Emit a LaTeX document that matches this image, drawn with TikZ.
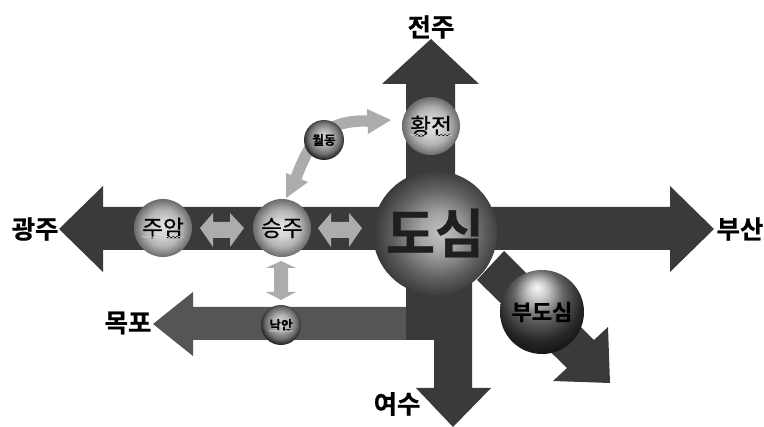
\documentclass[tikz,border=0pt]{standalone}
\usepackage{fontspec}
\newfontfamily\cjk{Noto Sans CJK KR}[BoldFont={Noto Sans CJK KR Bold},BoldFeatures={FakeBold=0.6}]
\newfontfamily\cjkmid{Noto Sans CJK KR}[FakeBold=0.5]
\usetikzlibrary{decorations.pathmorphing,calc}
\definecolor{darkarrow}{HTML}{3A3A3A}
\definecolor{midarrow}{HTML}{555555}
\definecolor{lightarrow}{HTML}{ACACAC}
\pgfdeclareradialshading{ballmid}{\pgfpoint{0bp}{0bp}}{color(0bp)=(black!13);color(7bp)=(black!16);color(16bp)=(black!30);color(25bp)=(black!58);color(50bp)=(black!58)}
\pgfdeclareradialshading{ballbig}{\pgfpoint{2bp}{0bp}}{color(0bp)=(black!24);color(8bp)=(black!36);color(18bp)=(black!62);color(26bp)=(black!78);color(50bp)=(black!78)}
\pgfdeclareradialshading{ballbud}{\pgfpoint{-3bp}{15bp}}{color(0bp)=(black!3);color(6bp)=(black!22);color(15bp)=(black!62);color(25bp)=(black!85);color(38bp)=(black);color(50bp)=(black)}
\pgfdeclareradialshading{ballsmall}{\pgfpoint{0bp}{4bp}}{color(0bp)=(black!15);color(10bp)=(black!30);color(20bp)=(black!58);color(29bp)=(black);color(50bp)=(black)}
\tikzset{
 x=0.75pt,y=-0.75pt,
 ball/.style={circle,inner sep=0pt,minimum size=#1*0.75pt},
 midball/.style={ball=58,shading=ballmid,font=\cjkmid\fontsize{17}{18}\selectfont,text=black},
 smallball/.style={ball=40,shading=ballsmall,font=\cjk\bfseries\fontsize{9.5}{10}\selectfont,text=black},
 place/.style={font=\cjk\bfseries\fontsize{19}{20}\selectfont,text=black,inner sep=0pt},
 bigarrow/.style={fill=darkarrow,draw=none},
 grayarrow/.style={fill=lightarrow,draw=none},
 squig/.style={draw=black!20,line width=0.5pt,decorate,decoration={snake,amplitude=0.6pt,segment length=3pt}},
}
\begin{document}
\begin{tikzpicture}
\useasboundingbox[fill=white] (0,0) rectangle (764,427);
% lower-left road
\fill[fill=midarrow] (153,324) -- (193,292) -- (193,307) -- (410,307) -- (410,340) -- (193,340) -- (193,356) -- cycle;
% main roads
\fill[bigarrow] (431,39) -- (479,84) -- (455,84) -- (455,250) -- (406,250) -- (406,84) -- (382,84) -- cycle;
\fill[bigarrow] (59,229) -- (103,186) -- (103,207) -- (670,207) -- (670,186) -- (714,229) -- (670,272) -- (670,250) -- (103,250) -- (103,272) -- cycle;
\fill[bigarrow] (406,240) -- (472,240) -- (472,388) -- (491,388) -- (453,427) -- (416,388) -- (434,388) -- (434,340) -- (406,340) -- cycle;
\fill[bigarrow] (504,251) -- (594,340) -- (608,327) -- (610,383) -- (553,381) -- (567,368) -- (477,280) -- cycle;
% light arrows
\fill[grayarrow] (200,228) -- (213,213) -- (213,222) -- (230,222) -- (230,213) -- (244,228) -- (230,247) -- (230,238) -- (213,238) -- (213,247) -- cycle;
\fill[grayarrow] (318,228) -- (331,213) -- (331,222) -- (349,222) -- (349,213) -- (362,228) -- (349,247) -- (349,238) -- (331,238) -- (331,247) -- cycle;
\fill[grayarrow] (281,261) -- (296,268) -- (288,268) -- (288,292) -- (296,292) -- (281,300) -- (266,292) -- (274,292) -- (274,268) -- (266,268) -- cycle;
\draw[lightarrow,line width=8.5pt] (368,121) .. controls (325,120) and (310,140) .. (296,178);
\fill[grayarrow] (391,120) -- (367,109) -- (368,134) -- cycle;
\fill[grayarrow] (286,198) -- (286,173) -- (308,182) -- cycle;
% stations
\node[smallball] (wd) at (324,140) {월동};
\node[midball] (hj) at (431,126) {황전};
\node[midball] (ja) at (163,228) {주암};
\node[midball] (sj) at (282,228) {승주};
\node[smallball] (na) at (281,325) {낙안};
\node[ball=124,shading=ballbig,font=\cjk\bfseries\fontsize{40}{41}\selectfont,text=black!88] (ds) at (435,233) {도심};
\node[ball=84,shading=ballbud,font=\cjk\bfseries\fontsize{16.5}{17}\selectfont,text=black] (bd) at (542,312) {부도심};
\draw[squig] ($(hj)+(-21,9)$) -- ($(hj)+(21,9)$);
\draw[squig] ($(ja)+(-21,9)$) -- ($(ja)+(21,9)$);
\draw[squig] ($(na)+(-12,6)$) -- ($(na)+(12,6)$);
% destinations
\node[place] (jj) at (431,27) {전주};
\node[place] (gj) at (35,229) {광주};
\node[place] (mp) at (128,323) {목포};
\node[place] (ys) at (397,404) {여수};
\node[place] (bs) at (740,229) {부산};
\end{tikzpicture}
\end{document}
